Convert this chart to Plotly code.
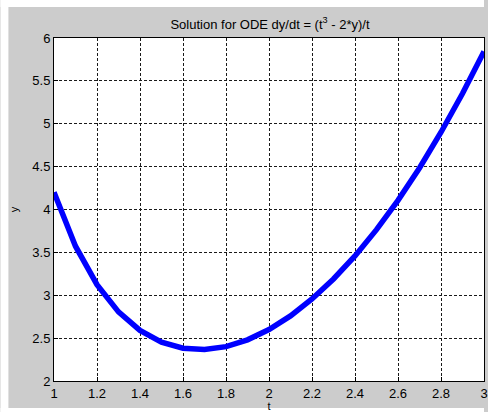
import plotly.graph_objects as go

# Solution of dy/dt = (t^3 - 2y)/t sampled on t = 1..3
t_vals = [1.0, 1.1, 1.2, 1.3, 1.4, 1.5, 1.6, 1.7, 1.8, 1.9, 2.0,
          2.1, 2.2, 2.3, 2.4, 2.5, 2.6, 2.7, 2.8, 2.9, 3.0]
y_vals = [4.200, 3.572, 3.123, 2.806, 2.590, 2.453, 2.382, 2.367, 2.401, 2.480, 2.600,
          2.759, 2.956, 3.190, 3.459, 3.765, 4.107, 4.485, 4.901, 5.353, 5.844]
x_ticks = [1, 1.2, 1.4, 1.6, 1.8, 2, 2.2, 2.4, 2.6, 2.8, 3]
x_tick_text = ["1", "1.2", "1.4", "1.6", "1.8", "2", "2.2", "2.4", "2.6", "2.8", "3"]
y_ticks = [2, 2.5, 3, 3.5, 4, 4.5, 5, 5.5, 6]
y_tick_text = ["2", "2.5", "3", "3.5", "4", "4.5", "5", "5.5", "6"]

W, H = 488, 412
L, R, T, B = 54, 0, 38, 31
pw, ph = W - L - R, H - T - B

def px_x(p):
    return (p - L) / pw

def px_y(p):
    return (H - B - p) / ph

font = dict(family="Liberation Sans, Arial, sans-serif", size=13, color="#000000")

fig = go.Figure()
fig.add_trace(go.Scatter(
    x=t_vals, y=y_vals, mode="lines",
    line=dict(color="#0000ff", width=5.5),
    showlegend=False, hoverinfo="skip", cliponaxis=False,
))

axis_common = dict(
    showline=True, linecolor="#000000", linewidth=1, mirror=True,
    showgrid=True, gridcolor="#1a1a1a", gridwidth=1, griddash="3px,2px",
    ticks="inside", ticklen=4, tickcolor="#000000",
    zeroline=False, tickfont=font, ticklabeloverflow="allow",
)

fig.update_xaxes(range=[1, 3], tickvals=x_ticks, ticktext=x_tick_text,
                 title=dict(text="t", font=dict(size=11), standoff=4),
                 **axis_common)
fig.update_yaxes(range=[2, 6], tickvals=y_ticks, ticktext=y_tick_text,
                 title=dict(text="y", font=dict(size=11), standoff=11),
                 **axis_common)

# white frame strips around the grey figure area
shapes = [
    dict(type="rect", xref="paper", yref="paper", layer="above",
         x0=px_x(0), x1=px_x(8), y0=px_y(H), y1=px_y(0),
         fillcolor="#ffffff", line=dict(width=0)),
    dict(type="rect", xref="paper", yref="paper", layer="above",
         x0=px_x(0), x1=px_x(W), y0=px_y(7), y1=px_y(0),
         fillcolor="#ffffff", line=dict(width=0)),
    dict(type="rect", xref="paper", yref="paper", layer="above",
         x0=px_x(0), x1=px_x(W), y0=px_y(H), y1=px_y(408),
         fillcolor="#ffffff", line=dict(width=0)),
]

fig.update_layout(
    width=W, height=H,
    margin=dict(l=L, r=R, t=T, b=B, pad=0),
    paper_bgcolor="#cccccc", plot_bgcolor="#ffffff",
    font=font,
    title=dict(text="Solution for ODE dy/dt = (t<sup>3</sup> - 2*y)/t",
               x=270 / W, xanchor="center",
               y=1 - 24 / H, yanchor="middle",
               font=dict(size=13)),
    shapes=shapes,
)

fig.write_html("out.html")
